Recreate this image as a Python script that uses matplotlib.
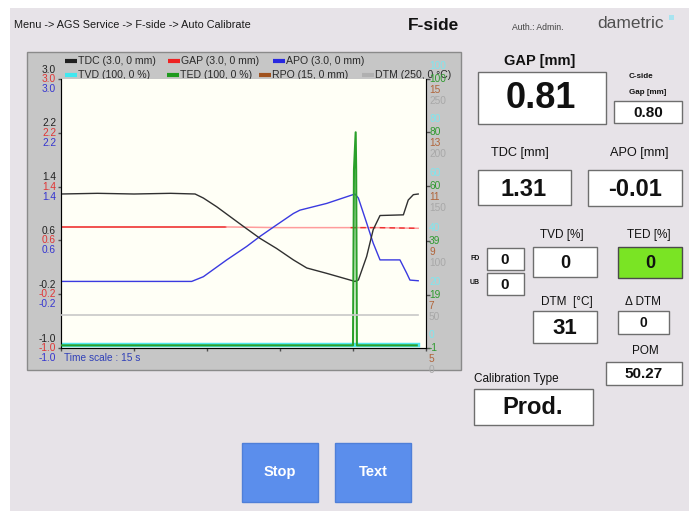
import matplotlib
matplotlib.use('Agg')
import matplotlib.pyplot as plt
from matplotlib.patches import Rectangle

# ---------------- data ----------------
# time axis in seconds (time scale 15 s)
x_ticks = [0, 3, 6, 9, 12, 15]

t_tdc = [0, 1.5, 3.0, 4.5, 5.51, 5.85, 6.40, 7.49, 8.18, 8.86, 9.55, 10.10, 10.92,
         12.08, 12.22, 12.56, 12.83, 13.11, 14.07, 14.27, 14.48, 14.68]
tdc = [1.29, 1.30, 1.29, 1.30, 1.29, 1.23, 1.10, 0.81, 0.63, 0.48, 0.31, 0.19, 0.11,
       -0.01, 0.01, 0.36, 0.76, 0.97, 0.98, 1.20, 1.28, 1.29]

t_apo = [0, 5.37, 5.85, 6.81, 7.63, 8.18, 8.86, 9.55, 9.82, 10.92, 12.08, 12.22,
         12.56, 12.83, 13.11, 13.93, 14.21, 14.34, 14.68]
apo = [-0.01, -0.01, 0.06, 0.31, 0.51, 0.66, 0.83, 1.00, 1.05, 1.15, 1.29, 1.23,
       0.86, 0.56, 0.31, 0.31, 0.11, 0.01, 0.00]

t_gap = [0, 3.0, 6.8, 9.0, 11.9, 13.0, 14.68]
gap = [0.80, 0.80, 0.80, 0.79, 0.79, 0.79, 0.78]

t_ted = [0, 12.0, 12.04, 12.11, 12.13, 12.16, 14.62]
ted = [0, 0, 66, 80, 66, 0, 0]

t_tvd = [0, 14.68]
tvd = [0, 0]

t_dtm = [0, 14.68]
dtm = [31, 31]

left_ticks = [3.0, 2.2, 1.4, 0.6, -0.2, -1.0]
ted_ticks = [100, 80, 60, 39, 19, -1]
tvd_labels = ['100', '80', '60', '40', '20', '0']
rpo_labels = ['15', '13', '11', '9', '7', '5']
dtm_labels = ['250', '200', '150', '100', '50', '0']

legend_rows = [
    [('TDC (3.0, 0 mm)', '#202020'), ('GAP (3.0, 0 mm)', '#ee2222'), ('APO (3.0, 0 mm)', '#2828e0')],
    [('TVD (100, 0 %)', '#40e8f0'), ('TED (100, 0 %)', '#1e9a1e'), ('RPO (15, 0 mm)', '#a0521e'),
     ('DTM (250, 0 °C)', '#b0b0b0')],
]
legend_x = [[65, 168, 273], [65, 167, 259, 362]]

gap_val, cside_val = '0.81', '0.80'
tdc_val, apo_val = '1.31', '-0.01'
tvd_val, ted_val, fd_val, ub_val = '0', '0', '0', '0'
dtm_val, ddtm_val, pom_val = '31', '0', '50.27'
calib_type = 'Prod.'

# ---------------- figure ----------------
plt.rcParams['font.family'] = ['Liberation Sans', 'DejaVu Sans']
narrow = ['Liberation Sans Narrow', 'Liberation Sans', 'DejaVu Sans']

W, H = 689, 511
fig = plt.figure(figsize=(W / 100, H / 100), dpi=100)
fig.patch.set_facecolor('white')

ui = fig.add_axes([0, 0, 1, 1])
ui.set_xlim(0, W)
ui.set_ylim(H, 0)
ui.axis('off')


def box(x0, y0, x1, y1, fc='white', ec='#6e6e6e', lw=1.0, z=1):
    ui.add_patch(Rectangle((x0, y0), x1 - x0, y1 - y0, facecolor=fc,
                           edgecolor=ec, linewidth=lw, zorder=z))


def txt(x, y, s, size, ha='center', color='#111111', weight='normal', **kw):
    ui.text(x, y, s, fontsize=size, ha=ha, va='center', color=color,
            fontweight=weight, zorder=5, **kw)


# background panel
box(10, 8, 689, 511, fc='#e7e3e8', ec='none', z=0)

# header
txt(14, 25, 'Menu -> AGS Service -> F-side -> Auto Calibrate', 7.8, ha='left', color='#1a1a1a')
txt(408, 25, 'F-side', 12.5, ha='left', weight='bold', family=narrow)
txt(512, 28, 'Auth.: Admin.', 6.2, ha='left', color='#404040')
txt(597, 24, 'dametric', 12.5, ha='left', color='#505050')
box(669, 15, 674, 20, fc='#a8e4f0', ec='none', z=2)

# chart frame
box(27, 52, 461, 370, fc='#c6c6c6', ec='#8a8a8a', z=1)

# legend
for row, xs, ly in zip(legend_rows, legend_x, [61.5, 75]):
    for (name, col), lx in zip(row, xs):
        ui.plot([lx, lx + 12], [ly, ly], color=col, lw=3, solid_capstyle='butt', zorder=4)
        txt(lx + 13, ly, name, 7.6, ha='left', color='#2a2a2a')

txt(64, 358, 'Time scale : 15 s', 7.3, ha='left', color='#3040b8')

# ---------------- chart ----------------
ax = fig.add_axes([61 / W, 1 - 348 / H, 365 / W, 269 / H], zorder=3)
ax.set_facecolor('#fffff6')
ax.set_xlim(0, 15)
ax.set_ylim(-1.0, 3.0)
ax.set_xticks(x_ticks)
ax.set_yticks(left_ticks)
ax.tick_params(axis='both', length=2, width=1, color='#505050', labelleft=False, labelbottom=False)
ax.spines['top'].set_visible(False)
for s in ['left', 'bottom', 'right']:
    ax.spines[s].set_color('#5a5a5a')

ax2 = ax.twinx()
ax2.set_ylim(-1, 100)
ax2.set_yticks(ted_ticks)
ax2.tick_params(axis='y', length=3, width=1, color='#505050', labelright=False)
ax2.spines['top'].set_visible(False)

ax3 = ax.twinx()
ax3.set_ylim(0, 250)
ax3.axis('off')

ax3.plot(t_dtm, dtm, color='#c8c8c8', lw=1.2, zorder=1)
ax2.plot(t_tvd, tvd, color='#50e8f0', lw=3.2, zorder=2)
ax2.plot(t_ted, ted, color='#2aa02a', lw=1.5, zorder=3)

ax.plot(t_gap[:3], gap[:3], color='#ee2222', lw=1.1)
ax.plot(t_gap[2:], gap[2:], color='#ff9c9c', lw=1.1)
ax.plot(t_gap[4:], gap[4:], color='#ee3030', lw=1.0, dashes=(4, 3))
ax.plot(t_apo, apo, color='#3a3ae0', lw=1.0)
ax.plot(t_tdc, tdc, color='#303030', lw=1.0)

# left scale labels: TDC / GAP / APO
for v in left_ticks:
    for dy, col in [(9.5, '#222222'), (0, '#e03535'), (-10, '#3535d0')]:
        ax.annotate(f'{v:.1f}', xy=(0, v), xycoords=ax.get_yaxis_transform(),
                    xytext=(-5, dy), textcoords='offset pixels', ha='right', va='center',
                    fontsize=7.3, color=col, annotation_clip=False)

# right scale labels: TVD / TED / RPO / DTM
for v, a, b, c in zip(ted_ticks, tvd_labels, rpo_labels, dtm_labels):
    for dy, s, col in [(13, a, '#7fe6ee'), (0, str(v), '#2e9a2e'),
                       (-11, b, '#b0643a'), (-22, c, '#a8a8a8')]:
        ax2.annotate(s, xy=(1, v), xycoords=ax2.get_yaxis_transform(),
                     xytext=(3, dy), textcoords='offset pixels', ha='left', va='center',
                     fontsize=7.3, color=col, annotation_clip=False)

# ---------------- right side readouts ----------------
txt(540, 61, 'GAP [mm]', 10.5, weight='bold')
box(478, 72, 606, 124)
txt(541, 99, gap_val, 26, weight='bold')

txt(641, 77, 'C-side', 5.8, weight='bold')
txt(648, 93, 'Gap [mm]', 5.8, weight='bold')
box(614, 101, 682, 123)
txt(648, 113, cside_val, 11, weight='bold')

txt(520, 153, 'TDC [mm]', 9.2)
txt(639, 153, 'APO [mm]', 9.2)
box(478, 170, 571, 205)
txt(524, 189, tdc_val, 17, weight='bold')
box(588, 170, 682, 206)
txt(635, 189, apo_val, 17, weight='bold')

txt(562, 235, 'TVD [%]', 8.5)
txt(649, 235, 'TED [%]', 8.5)
txt(475, 259, 'FD', 5, weight='bold')
txt(475, 283, 'UB', 5, weight='bold')
box(487, 248, 524, 270)
txt(505, 260, fd_val, 11, weight='bold')
box(487, 273, 524, 295)
txt(505, 285, ub_val, 11, weight='bold')
box(533, 247, 597, 277)
txt(565, 263, tvd_val, 13, weight='bold')
box(618, 247, 682, 278, fc='#7ae424', ec='#4a4a4a')
txt(650, 263, ted_val, 13, weight='bold')

txt(567, 302, 'DTM  [°C]', 8.5)
txt(643, 302, 'Δ DTM', 8.5)
box(533, 311, 597, 343)
txt(565, 328, dtm_val, 16, weight='bold')
box(618, 311, 669, 334)
txt(643, 323, ddtm_val, 10, weight='bold')

txt(645, 351, 'POM', 8.5)
box(606, 362, 682, 385)
txt(644, 374, pom_val, 11, weight='bold')

txt(474, 379, 'Calibration Type', 8.5, ha='left')
box(474, 389, 593, 425)
txt(533, 408, calib_type, 17, weight='bold', family=narrow)

# buttons
for x0, label in [(242, 'Stop'), (335, 'Text')]:
    box(x0, 443, x0 + 76, 502, fc='#5b8eec', ec='#4f7fd8', z=1)
    txt(x0 + 38, 472, label, 10.5, weight='bold', color='white')

fig.savefig('out.png', dpi=100)
